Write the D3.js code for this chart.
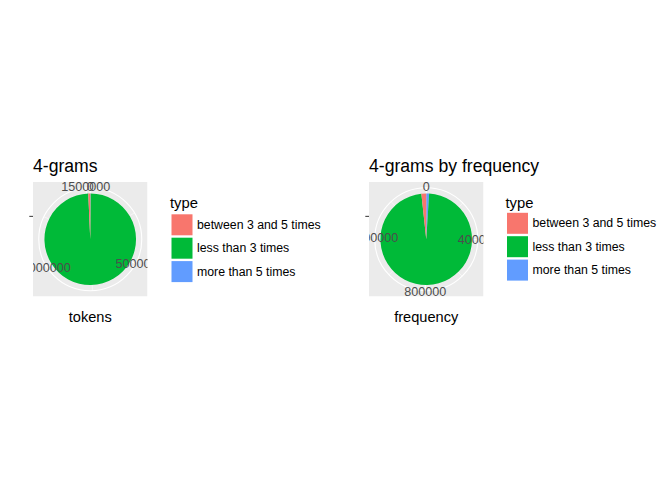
<!DOCTYPE html>
<html>
<head>
<meta charset="utf-8">
<script src="https://cdn.jsdelivr.net/npm/d3@7"></script>
<style>
  html, body { margin: 0; padding: 0; background: #ffffff; }
  svg { display: block; font-family: "Liberation Sans", Arial, sans-serif; }
</style>
</head>
<body>
<svg id="chart" width="672" height="480"></svg>
<script>
// ---------- data ----------
const categories = ["between 3 and 5 times", "less than 3 times", "more than 5 times"];
const colors = ["#F8766D", "#00BA38", "#619CFF"];
const tokensValues = [10500, 1508000, 2000];
const frequencyValues = [27000, 1547000, 16000];
const tokensTicks = [0, 500000, 1000000, 1500000];
const frequencyTicks = [0, 400000, 800000, 1200000];
const titles = ["4-grams", "4-grams by frequency"];
const axisTitles = ["tokens", "frequency"];
const legendTitle = "type";

// ---------- layout ----------
const svg = d3.select("#chart");
const panels = [
  { x0: 33, y0: 182, size: 114.5, values: tokensValues, ticks: tokensTicks,
    title: titles[0], axisTitle: axisTitles[0], legX: 170, keyY: 214.3 },
  { x0: 369, y0: 182, size: 114.5, values: frequencyValues, ticks: frequencyTicks,
    title: titles[1], axisTitle: axisTitles[1], legX: 505.5, keyY: 212.8 }
];

panels.forEach((p, i) => {
  const g = svg.append("g");
  const cx = p.x0 + p.size / 2, cy = p.y0 + p.size / 2;
  const total = d3.sum(p.values);

  // stacking like ggplot: last level at the bottom (theta starts at 0)
  const order = d3.range(categories.length).reverse();
  let acc = 0;
  const segs = order.map(k => {
    const s = { k, start: acc, end: acc + p.values[k] };
    acc += p.values[k];
    return s;
  });

  const theta = d3.scaleLinear().domain([0, total]).range([0, 2 * Math.PI]);
  const r = d3.scaleLinear().domain([0.5, 1.5]).range([0, 0.4 * p.size]);
  const rOuter = 0.45 * p.size;

  // clip
  const clipId = "clip" + i;
  svg.append("clipPath").attr("id", clipId)
    .append("rect").attr("x", p.x0).attr("y", p.y0).attr("width", p.size).attr("height", p.size);

  const pg = g.append("g").attr("clip-path", `url(#${clipId})`);
  pg.append("rect").attr("x", p.x0).attr("y", p.y0).attr("width", p.size).attr("height", p.size)
    .attr("fill", "#EBEBEB");

  // minor theta grid
  const minor = [];
  for (let j = 0; j < p.ticks.length; j++) {
    const step = p.ticks[1] - p.ticks[0];
    const m = p.ticks[j] + step / 2;
    if (m < total) minor.push(m);
  }
  pg.selectAll(".minor").data(minor).enter().append("line")
    .attr("x1", cx).attr("y1", cy)
    .attr("x2", d => cx + rOuter * Math.sin(theta(d)))
    .attr("y2", d => cy - rOuter * Math.cos(theta(d)))
    .attr("stroke", "#ffffff").attr("stroke-width", 0.55);
  pg.selectAll(".major").data(p.ticks).enter().append("line")
    .attr("x1", cx).attr("y1", cy)
    .attr("x2", d => cx + rOuter * Math.sin(theta(d)))
    .attr("y2", d => cy - rOuter * Math.cos(theta(d)))
    .attr("stroke", "#ffffff").attr("stroke-width", 1.1);
  // outer circle
  pg.append("circle").attr("cx", cx).attr("cy", cy).attr("r", rOuter)
    .attr("fill", "none").attr("stroke", "#ffffff").attr("stroke-width", 1.1);

  // slices
  const arc = d3.arc().innerRadius(r(0.5)).outerRadius(r(1.5));
  pg.selectAll(".slice").data(segs).enter().append("path")
    .attr("transform", `translate(${cx},${cy})`)
    .attr("d", d => arc({ startAngle: theta(d.start), endAngle: theta(d.end) }))
    .attr("fill", d => colors[d.k]);

  // theta labels (overlap at the top is as in the reference)
  pg.selectAll(".tl").data(p.ticks).enter().append("text")
    .attr("x", d => cx + (rOuter + 1) * Math.sin(theta(d)))
    .attr("y", d => cy - (rOuter + 1) * Math.cos(theta(d)))
    .attr("text-anchor", "middle").attr("dominant-baseline", "central")
    .attr("font-size", 12.6).attr("fill", "#4D4D4D")
    .text(d => d3.format("d")(d));

  // r axis tick (blank category)
  const rt = cy - r(1);
  g.append("line").attr("x1", p.x0 - 3.7).attr("x2", p.x0).attr("y1", rt).attr("y2", rt)
    .attr("stroke", "#333333").attr("stroke-width", 1);

  // title
  g.append("text").attr("x", p.x0).attr("y", 171.5).attr("font-size", 17.6).attr("fill", "#000")
    .text(p.title);
  // axis title
  g.append("text").attr("x", cx).attr("y", 322.3).attr("text-anchor", "middle")
    .attr("font-size", 14.6).attr("fill", "#000").text(p.axisTitle);

  // legend
  const lg = g.append("g");
  lg.append("text").attr("x", p.legX).attr("y", 208.3).attr("font-size", 14.8).attr("fill", "#000")
    .text(legendTitle);
  const keyStep = 23.4, keySize = 21;
  categories.forEach((c, k) => {
    const ky = p.keyY + k * keyStep;
    lg.append("rect").attr("x", p.legX + 1.5).attr("y", ky).attr("width", keySize).attr("height", keySize)
      .attr("fill", colors[k]);
    lg.append("text").attr("x", p.legX + 27).attr("y", ky + keySize / 2)
      .attr("dominant-baseline", "central").attr("font-size", 12.3).attr("fill", "#000").text(c);
  });
});
</script>
</body>
</html>
